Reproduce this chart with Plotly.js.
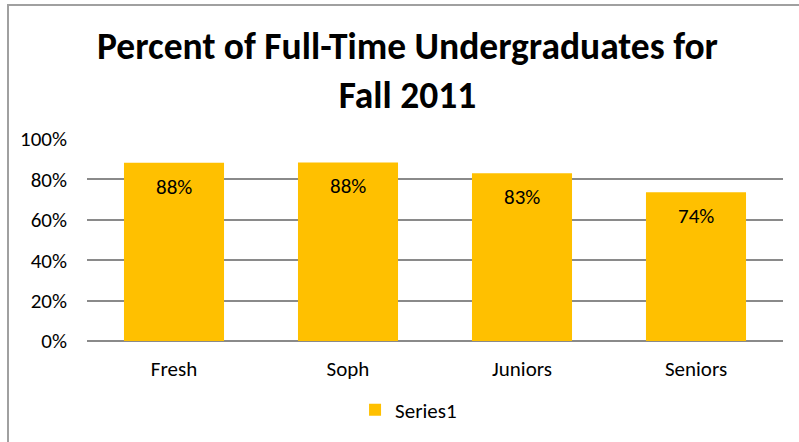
<!DOCTYPE html>
<html>
<head>
<meta charset="utf-8">
<script src="https://cdn.plot.ly/plotly-3.0.1.min.js"></script>
<style>
  html, body { margin: 0; padding: 0; background: #fff; }
  #wrap { position: relative; width: 799px; height: 442px; overflow: hidden; }
  #frame { position: absolute; left: 7px; top: 4px; width: 800px; height: 450px;
           border-left: 2px solid #a0a0a0; border-top: 2px solid #a0a0a0; pointer-events: none; }
  #chart { position: absolute; left: 0; top: 0; width: 799px; height: 442px; }
</style>
</head>
<body>
<div id="wrap">
  <div id="chart"></div>
  <div id="frame"></div>
</div>
<script>
const categories = ["Fresh", "Soph", "Juniors", "Seniors"];
const values = [0.882, 0.884, 0.831, 0.736];
const labels = ["88%", "88%", "83%", "74%"];
const yTickVals = [0, 0.2, 0.4, 0.6, 0.8, 1.0];
const yTickText = ["0%", "20%", "40%", "60%", "80%", "100%"];
const seriesName = "Series1";

const FONT = "Carlito, Calibri, Lato, sans-serif";

const trace = {
  type: "bar",
  x: categories,
  y: values,
  name: seriesName,
  marker: { color: "#FFC000" },
  showlegend: true,
  hoverinfo: "none"
};

const annotations = categories.map((c, i) => ({
  x: c, y: values[i], xref: "x", yref: "y",
  text: labels[i], showarrow: false,
  yanchor: "middle", yshift: -24,
  font: { family: FONT, size: 21, color: "#000" }
}));

const layout = {
  width: 799, height: 442,
  margin: { l: 87, r: 16, t: 138.5, b: 100.3 },
  paper_bgcolor: "#fff", plot_bgcolor: "#fff",
  font: { family: FONT, size: 21, color: "#000" },
  title: {
    text: "<b>Percent of Full-Time Undergraduates for<br>Fall 2011</b>",
    font: { family: FONT, size: 37.5, color: "#000" },
    xref: "container", x: 0.51, xanchor: "center",
    yref: "container", y: 0.866, yanchor: "top"
  },
  bargap: 0.425,
  xaxis: {
    showgrid: false, showline: false, zeroline: false,
    ticks: "", tickfont: { family: FONT, size: 21, color: "#000" },
    ticklabelstandoff: 13
  },
  yaxis: {
    range: [0, 1], tickvals: yTickVals, ticktext: yTickText,
    showgrid: true, gridcolor: "#8a8a8a", gridwidth: 2,
    zeroline: true, zerolinecolor: "#8a8a8a", zerolinewidth: 2,
    showline: false, ticks: "",
    tickfont: { family: FONT, size: 21, color: "#000" },
    ticklabelstandoff: 19
  },
  legend: {
    orientation: "h", x: 0.462, xanchor: "center", y: -0.336, yanchor: "middle",
    font: { family: FONT, size: 21, color: "#000" },
    itemwidth: 30
  },
  annotations: annotations,
  bargroupgap: 0
};

Plotly.newPlot("chart", [trace], layout, { staticPlot: true, displayModeBar: false });
</script>
</body>
</html>
